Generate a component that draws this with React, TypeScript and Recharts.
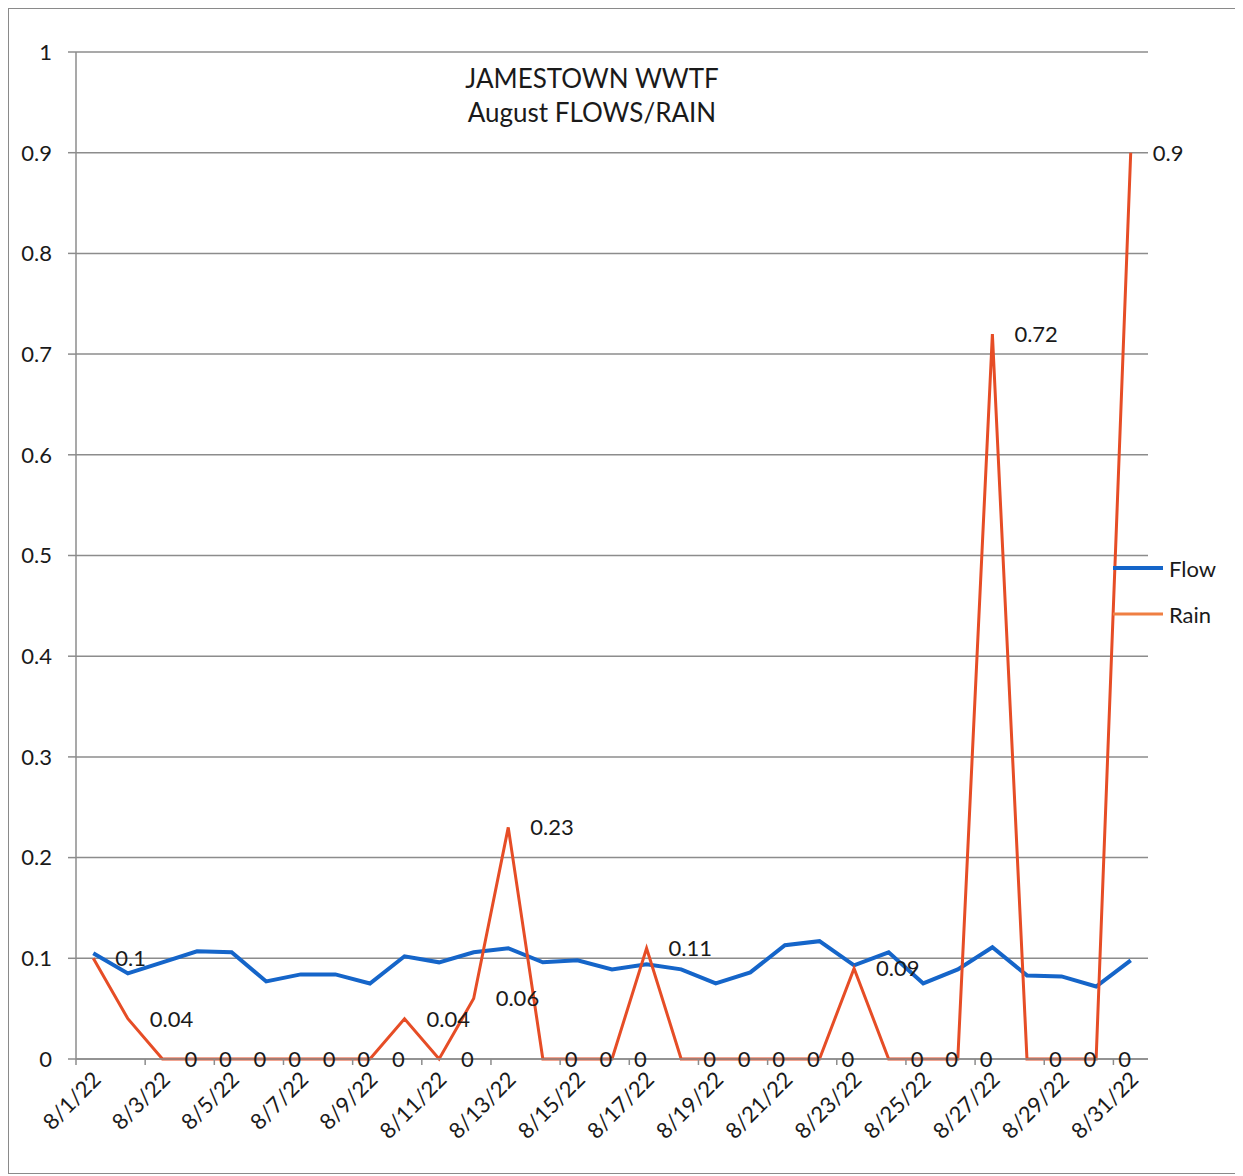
import React from 'react'
import { LineChart, Line, XAxis, YAxis, CartesianGrid, Legend, LabelList } from 'recharts'

const dates = [
  '8/1/22', '8/2/22', '8/3/22', '8/4/22', '8/5/22', '8/6/22', '8/7/22', '8/8/22',
  '8/9/22', '8/10/22', '8/11/22', '8/12/22', '8/13/22', '8/14/22', '8/15/22', '8/16/22',
  '8/17/22', '8/18/22', '8/19/22', '8/20/22', '8/21/22', '8/22/22', '8/23/22', '8/24/22',
  '8/25/22', '8/26/22', '8/27/22', '8/28/22', '8/29/22', '8/30/22', '8/31/22'
]

const flow = [
  0.105, 0.085, 0.096, 0.107, 0.106, 0.077, 0.084, 0.084, 0.075, 0.102, 0.096,
  0.106, 0.11, 0.096, 0.098, 0.089, 0.094, 0.089, 0.075, 0.086, 0.113, 0.117,
  0.093, 0.106, 0.075, 0.089, 0.111, 0.083, 0.082, 0.072, 0.098
]

const rain = [
  0.1, 0.04, 0, 0, 0, 0, 0, 0, 0, 0.04, 0, 0.06, 0.23, 0, 0, 0, 0.11, 0, 0, 0,
  0, 0, 0.09, 0, 0, 0, 0.72, 0, 0, 0, 0.9
]

const yTicks = [0, 0.1, 0.2, 0.3, 0.4, 0.5, 0.6, 0.7, 0.8, 0.9, 1]

const data = dates.map((d, i) => ({ date: d, flow: flow[i], rain: rain[i] }))

const FONT = 'Lato, "DejaVu Sans", sans-serif'
const FLOW_COLOR = '#1565c9'
const RAIN_COLOR = '#e64d26'
const GRID = '#8c8c8c'
const TEXT = '#1a1a1a'

const CHART_W = 1233
const CHART_H = 1164
const MARGIN = { top: 43, right: 94, left: 7, bottom: 34 }
const Y_W = 60
const PLOT_W = CHART_W - MARGIN.left - MARGIN.right - Y_W
const HALF = PLOT_W / dates.length / 2

// x tick: rotated date label plus a small tick mark on the category boundary (excel style)
const DateTick = (props: any) => {
  const { x, y, payload } = props
  return (
    <g>
      <line x1={x - HALF} x2={x - HALF} y1={y} y2={y + 6} stroke={GRID} strokeWidth={1.5} />
      <text
        transform={`translate(${x + 9},${y + 22}) rotate(-45)`}
        textAnchor="end"
        fontFamily={FONT}
        fontSize={22}
        fill={TEXT}
      >
        {payload.value}
      </text>
    </g>
  )
}

const LegendBox = () => (
  <div style={{ fontFamily: FONT, fontSize: 22, color: TEXT }}>
    {[
      { name: 'Flow', color: FLOW_COLOR, w: 4 },
      { name: 'Rain', color: '#ef7f43', w: 3 }
    ].map((it) => (
      <div key={it.name} style={{ display: 'flex', alignItems: 'center', height: 46 }}>
        <svg width={50} height={10} style={{ marginRight: 6 }}>
          <line x1={0} x2={50} y1={5} y2={5} stroke={it.color} strokeWidth={it.w} />
        </svg>
        <span>{it.name}</span>
      </div>
    ))}
  </div>
)

export default function App() {
  return (
    <div
      style={{
        position: 'relative',
        width: CHART_W,
        height: CHART_H,
        border: '1.5px solid #8a8a8a',
        background: '#fff'
      }}
    >
      <div
        style={{
          position: 'absolute',
          left: 383,
          top: 52,
          width: 400,
          textAlign: 'center',
          fontFamily: FONT,
          fontSize: 26,
          lineHeight: '34px',
          color: TEXT
        }}
      >
        <div>JAMESTOWN WWTF</div>
        <div>August FLOWS/RAIN</div>
      </div>
      <LineChart width={CHART_W} height={CHART_H} data={data} margin={MARGIN}>
        <CartesianGrid horizontal vertical={false} stroke={GRID} strokeWidth={1.5} />
        <XAxis
          dataKey="date"
          interval={1}
          padding={{ left: HALF, right: HALF }}
          height={80}
          tickSize={0}
          tickMargin={0}
          tickLine={false}
          axisLine={{ stroke: GRID, strokeWidth: 1.5 }}
          tick={<DateTick />}
        />
        <YAxis
          width={Y_W}
          domain={[0, 1]}
          ticks={yTicks}
          tickSize={8}
          tickMargin={16}
          axisLine={{ stroke: GRID, strokeWidth: 1.5 }}
          tickLine={{ stroke: GRID, strokeWidth: 1.5 }}
          tick={{ fontFamily: FONT, fontSize: 22, fill: TEXT }}
        />
        <Legend
          layout="vertical"
          align="center"
          verticalAlign="middle"
          content={<LegendBox />}
          wrapperStyle={{ left: 1104, top: 536, right: 'auto', bottom: 'auto', width: 125 }}
        />
        <Line
          type="linear"
          dataKey="flow"
          name="Flow"
          stroke={FLOW_COLOR}
          strokeWidth={4}
          dot={false}
          isAnimationActive={false}
        />
        <Line
          type="linear"
          dataKey="rain"
          name="Rain"
          stroke={RAIN_COLOR}
          strokeWidth={3}
          dot={false}
          isAnimationActive={false}
        >
          <LabelList
            dataKey="rain"
            position="right"
            offset={22}
            fontFamily={FONT}
            fontSize={22}
            fill={TEXT}
          />
        </Line>
      </LineChart>
    </div>
  )
}
